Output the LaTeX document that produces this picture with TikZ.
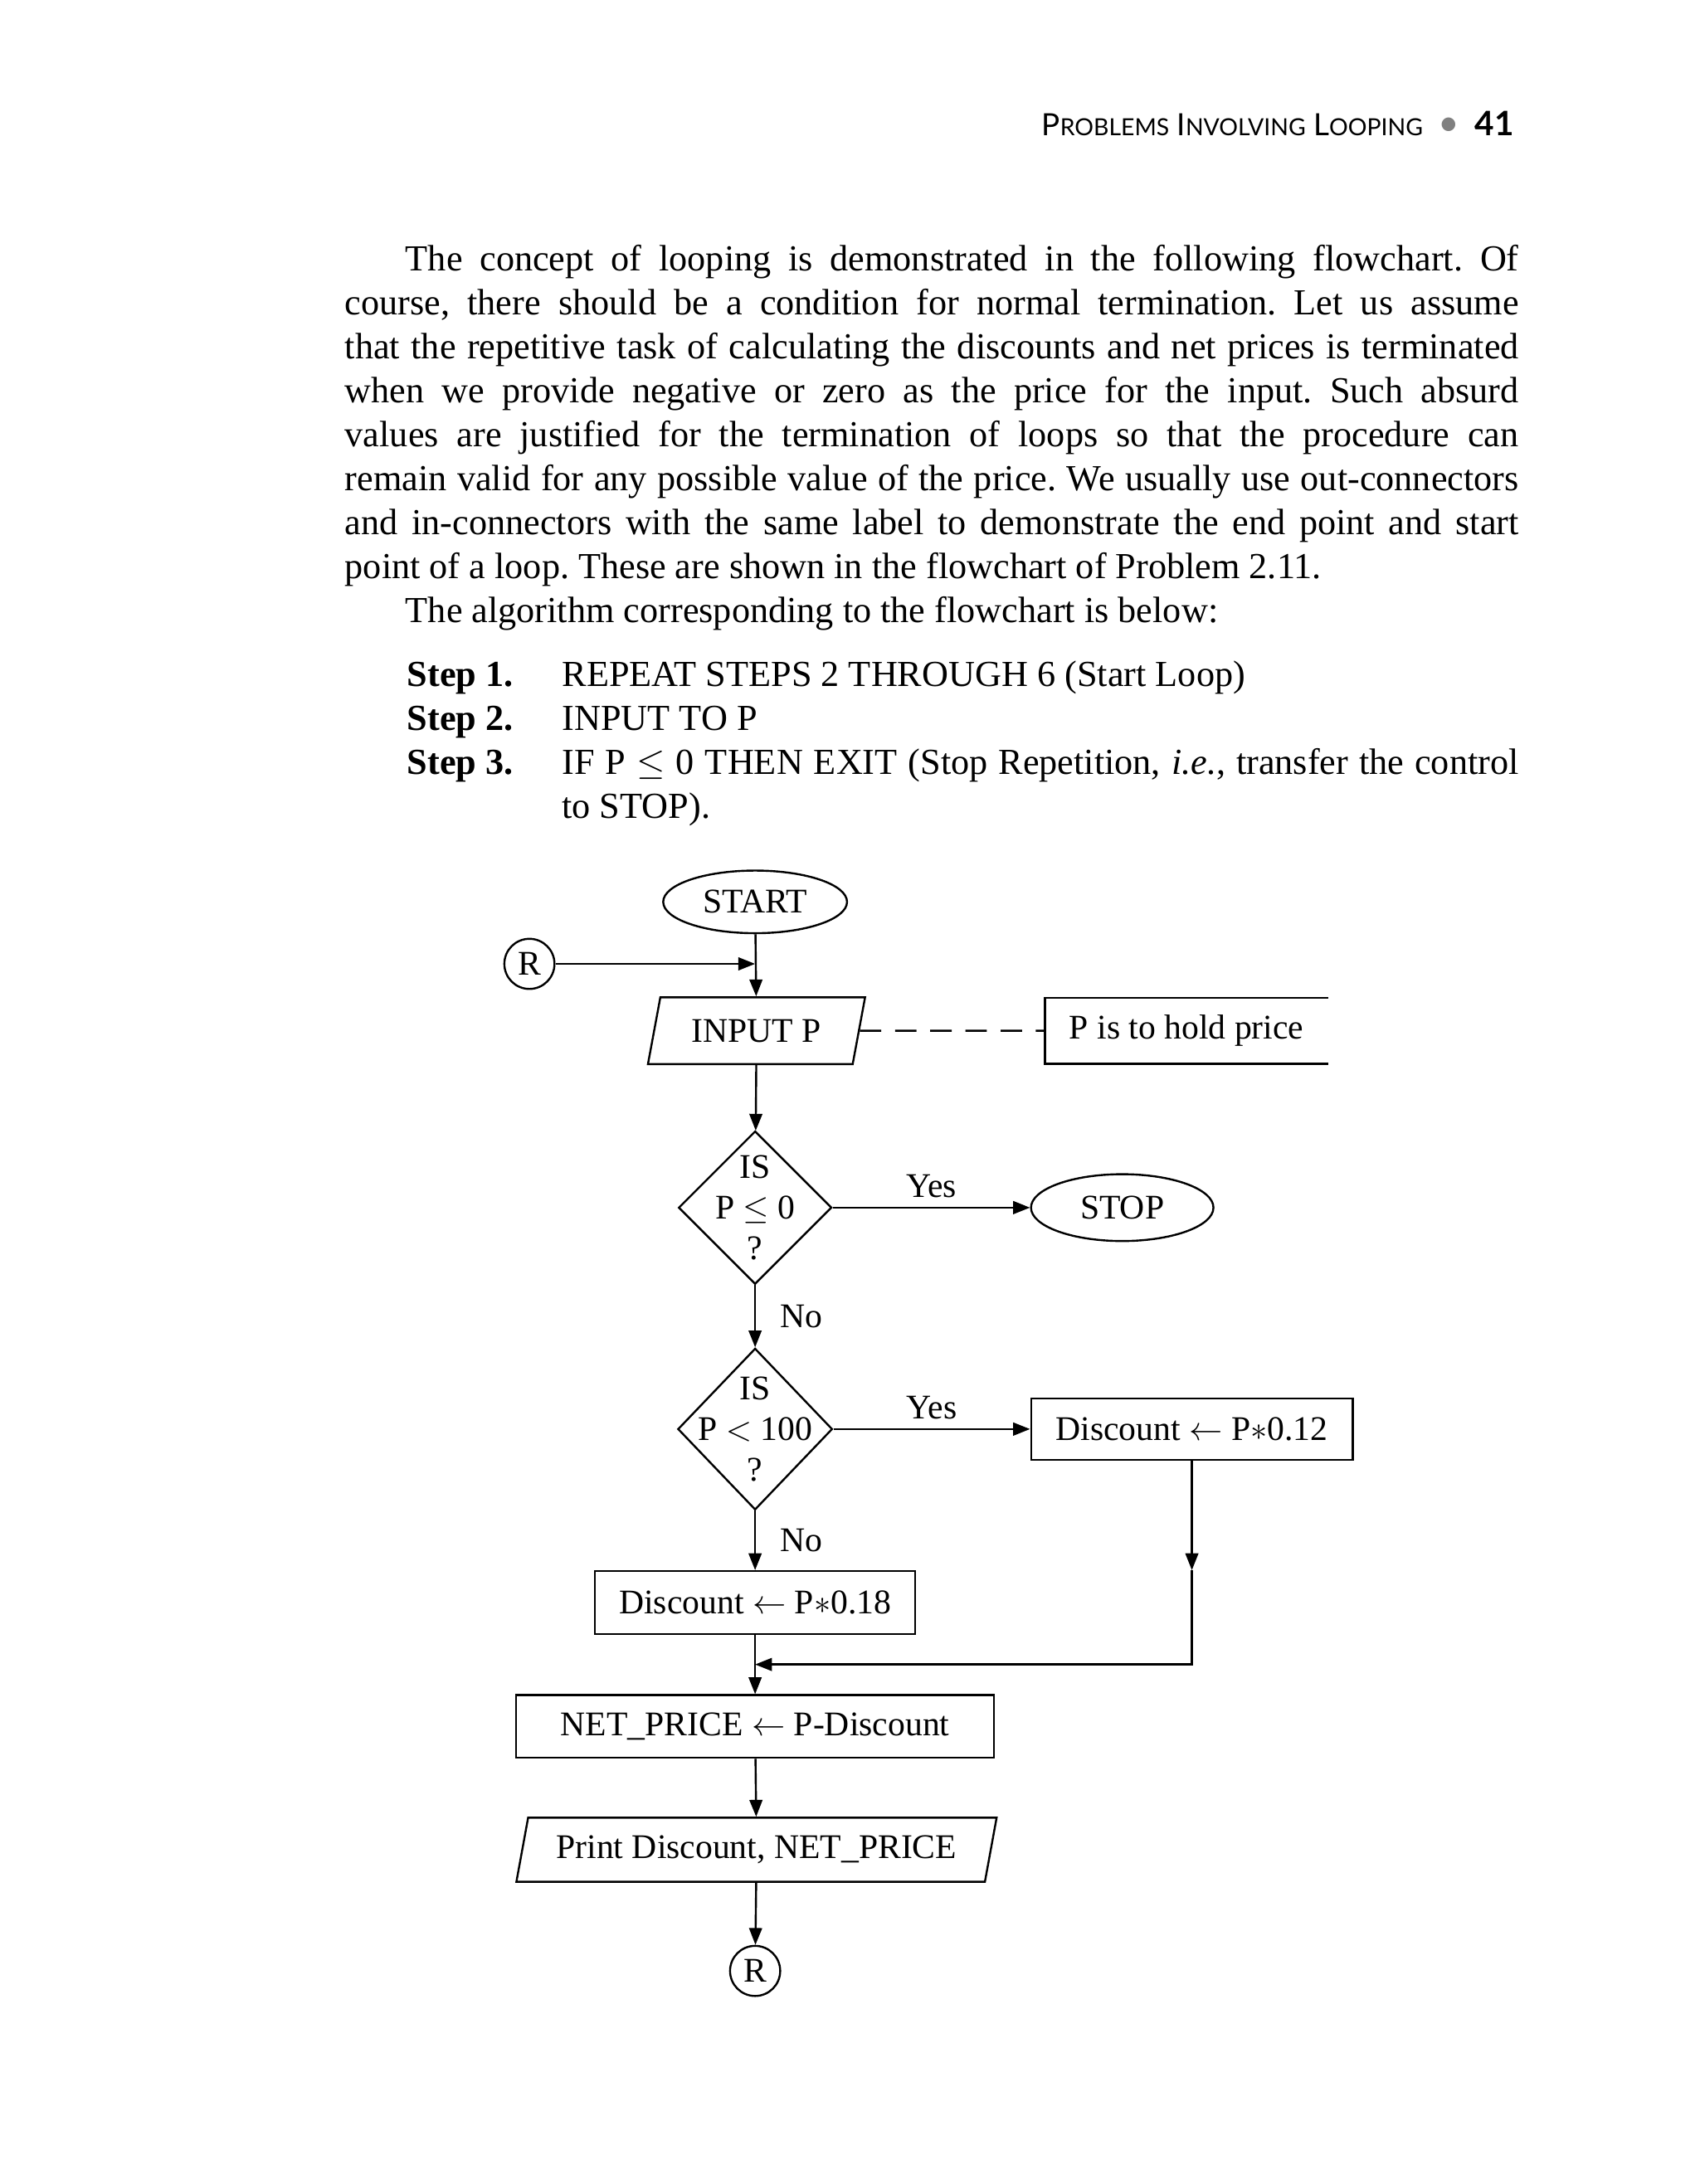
\documentclass[tikz,border=0pt]{standalone}
\usepackage{fontspec}
\setmainfont{Liberation Serif}
\newfontfamily\headfont{Lato}
\usetikzlibrary{arrows.meta,shapes.geometric}

\newcommand{\fullline}[1]{\hbox to\linewidth{#1}}
\newcommand{\hsc}[2]{{\fontsize{10}{11}\selectfont #1}{\fontsize{7.7}{9}\selectfont #2}}

\begin{document}
\begin{tikzpicture}[x=0.016cm,y=-0.016cm,
  every node/.style={inner sep=0pt},
  body/.style={anchor=base west,font=\fontsize{12}{14.38}\selectfont},
  chart/.style={font=\fontsize{11.3}{13.2}\selectfont,line width=0.65pt},
  term/.style={chart,draw,ellipse},
  proc/.style={chart,draw,rectangle},
  io/.style={chart,draw,trapezium,trapezium left angle=70,trapezium right angle=110,trapezium stretches=true},
  dec/.style={chart,draw,diamond},
  conn/.style={chart,draw,circle,minimum size=0.576cm},
  wire/.style={line width=0.65pt},
  flow/.style={wire,-{Triangle[length=5.5pt,width=4.2pt]}},
  lbl/.style={font=\fontsize{11.3}{13.2}\selectfont}]
  \useasboundingbox (0,0) rectangle (1220,1568);

  % running head
  \node[anchor=base east] (head) at (1087,97.5) {\headfont\hsc{P}{ROBLEMS} \hsc{I}{NVOLVING} \hsc{L}{OOPING}\hspace{5pt}{\color{gray}\fontsize{12}{12}\selectfont\textbullet}\hspace{5pt}{\fontsize{11}{12}\selectfont\bfseries 41}};

  % text above the chart
  \node[body] (para) at (247.2,194.6) {\parbox[t]{13.485cm}{\frenchspacing
    \fullline{\hspace*{0.696cm}The concept of looping is demonstrated in the following flowchart. Of}
    \fullline{course, there should be a condition for normal termination. Let us assume}
    \fullline{that the repetitive task of calculating the discounts and net prices is terminated}
    \fullline{when we provide negative or zero as the price for the input. Such absurd}
    \fullline{values are justified for the termination of loops so that the procedure can}
    \fullline{remain valid for any possible value of the price. We usually use out-connectors}
    \fullline{and in-connectors with the same label to demonstrate the end point and start}
    \hbox{point of a loop. These are shown in the flowchart of Problem 2.11.}
    \hbox{\hspace*{0.696cm}The algorithm corresponding to the flowchart is below:}}};
  \node[body] (steps) at (291.9,492.5) {\parbox[t]{12.77cm}{\frenchspacing
    \hbox{\makebox[1.779cm][l]{\bfseries Step 1.}REPEAT STEPS 2 THROUGH 6 (Start Loop)}
    \hbox{\makebox[1.779cm][l]{\bfseries Step 2.}INPUT TO P}
    \fullline{\makebox[1.779cm][l]{\bfseries Step 3.}IF P $\leq$ 0 THEN EXIT (Stop Repetition, \textit{i.e.}, transfer the control}
    \hbox{\hspace*{1.779cm}to STOP).}}};

  % flowchart
  \node[term,minimum width=2.112cm,minimum height=0.72cm] (start) at (542,647.5) {START};
  \node[conn] (rin) at (380,692) {R};
  \node[io,minimum width=2.496cm,minimum height=0.768cm] (inp) at (543,740) {INPUT P};
  \node[chart,anchor=west,minimum width=3.232cm,minimum height=0.736cm] (note) at (750,740) {P is to hold price};
  \node[dec,minimum width=1.76cm,minimum height=1.76cm,label={[lbl,align=center]center:IS\\P $\leq$ 0\\?}] (q1) at (542,867) {};
  \node[term,minimum width=2.096cm,minimum height=0.768cm] (stop) at (805.5,867) {STOP};
  \node[dec,minimum width=1.776cm,minimum height=1.856cm,label={[lbl,align=center]center:IS\\P $<$ 100\\?}] (q2) at (542,1026) {};
  \node[proc,minimum width=3.696cm,minimum height=0.704cm] (d12) at (855.5,1026) {Discount $\leftarrow$ P$*$0.12};
  \node[proc,minimum width=3.68cm,minimum height=0.72cm] (d18) at (542,1150.5) {Discount $\leftarrow$ P$*$0.18};
  \node[proc,minimum width=5.488cm,minimum height=0.72cm] (net) at (542,1239.5) {NET\_PRICE $\leftarrow$ P-Discount};
  \node[io,minimum width=5.52cm,minimum height=0.736cm] (out) at (543,1328) {Print Discount, NET\_PRICE};
  \node[conn] (rout) at (542,1415) {R};

  \coordinate (mrg1) at (start |- rin);
  \coordinate (mrg2) at (542,1195);

  \draw[flow] (start) -- (inp);
  \draw[flow] (rin) -- (mrg1);
  \draw[wire,dash pattern=on 7pt off 4.5pt] (inp.east) -- (note.west);
  \draw[wire] (note.north east) -- (note.north west) -- (note.south west) -- (note.south east);
  \draw[flow] (inp) -- (q1);
  \draw[flow] (q1) -- node[lbl,above=3pt] (yes1) {Yes} (stop);
  \draw[flow] (q1) -- node[lbl,right=8pt] (no1) {No} (q2);
  \draw[flow] (q2) -- node[lbl,above=3pt] (yes2) {Yes} (d12);
  \draw[flow] (q2) -- node[lbl,right=8pt] (no2) {No} (d18);
  \draw[flow] (d12) -- (d12 |- d18.north);
  \draw[flow] (d12 |- d18.north) -- (d12 |- mrg2) -- (mrg2);
  \draw[flow] (d18) -- (net);
  \draw[flow] (net) -- (out);
  \draw[flow] (out) -- (rout);
\end{tikzpicture}
\end{document}
